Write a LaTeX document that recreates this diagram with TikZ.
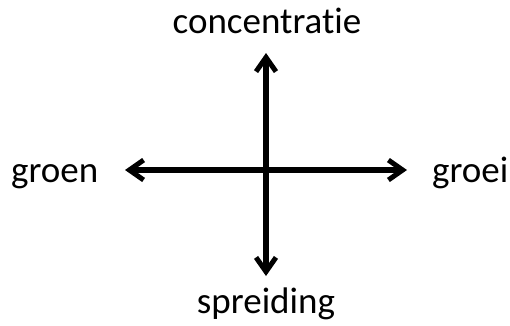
\documentclass[tikz,border=0pt]{standalone}
\usepackage{fontspec}
\setmainfont[Ligatures=NoCommon]{Carlito}
\usetikzlibrary{arrows.meta}
\tikzset{
  lbl/.style={anchor=base, inner sep=0pt, font=\fontsize{37}{40}\selectfont},
  barb/.tip={Straight Barb[length=5mm, width=7mm, line width=5pt]},
  axis/.style={barb-barb, line width=5.5pt},
}
\begin{document}
\begin{tikzpicture}[x=1pt, y=-1pt]
  \useasboundingbox (0,0) rectangle (510,325);
  % labels
  \node[lbl] (conc) at (267,33) {concentratie};
  \node[lbl] (spr) at (266,313) {spreiding};
  \node[lbl, anchor=base west] (groen) at (11,182) {groen};
  \node[lbl, anchor=base west] (groei) at (432,182) {groei};
  % arrow ends
  \coordinate (top) at (266,53);
  \coordinate (bot) at (266,276);
  \coordinate (lft) at (125,170);
  \coordinate (rgt) at (407,170);
  \draw[axis] (lft) -- (rgt);
  \draw[axis] (top) -- (bot);
\end{tikzpicture}
\end{document}
